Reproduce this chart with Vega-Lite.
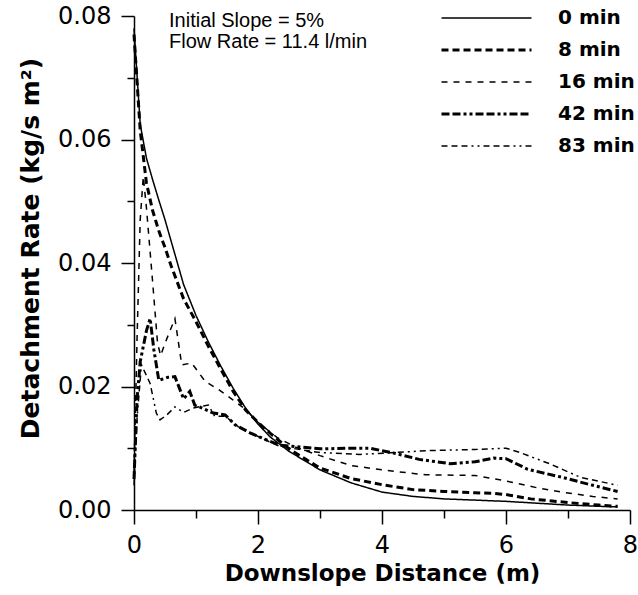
{
  "$schema": "https://vega.github.io/schema/vega-lite/v6.json",
  "width": 496,
  "height": 494,
  "autosize": {"type": "none"},
  "padding": {"left": 134, "top": 16, "right": 8, "bottom": 85},
  "background": "white",
  "config": {
    "view": {"stroke": null},
    "axis": {"grid": false, "domainColor": "black", "tickColor": "black", "labelColor": "black", "titleColor": "black", "domainWidth": 1.5, "tickWidth": 1.5, "labelFont": "DejaVu Sans", "labelFontSize": 24, "titleFont": "DejaVu Sans", "titleFontWeight": "bold", "labelFlush": false, "labelOverlap": false},
    "legend": {"symbolType": "stroke", "symbolSize": 8100, "symbolStrokeColor": "black", "labelFont": "DejaVu Sans", "labelFontWeight": "bold", "labelFontSize": 20, "labelColor": "black", "labelOffset": 25, "padding": 0, "clipHeight": 28, "rowPadding": 4}
  },
  "datasets": {
    "curves": [
      {"time": "0 min", "distance": 0, "rate": 0.078},
      {"time": "0 min", "distance": 0.1, "rate": 0.0625},
      {"time": "0 min", "distance": 0.2, "rate": 0.057},
      {"time": "0 min", "distance": 0.3, "rate": 0.0535},
      {"time": "0 min", "distance": 0.4, "rate": 0.0502},
      {"time": "0 min", "distance": 0.5, "rate": 0.047},
      {"time": "0 min", "distance": 0.6, "rate": 0.0435},
      {"time": "0 min", "distance": 0.8, "rate": 0.0365},
      {"time": "0 min", "distance": 1.0, "rate": 0.0315},
      {"time": "0 min", "distance": 1.2, "rate": 0.0272},
      {"time": "0 min", "distance": 1.4, "rate": 0.0233},
      {"time": "0 min", "distance": 1.6, "rate": 0.0197},
      {"time": "0 min", "distance": 1.8, "rate": 0.0165},
      {"time": "0 min", "distance": 2.0, "rate": 0.0139},
      {"time": "0 min", "distance": 2.2, "rate": 0.0118},
      {"time": "0 min", "distance": 2.5, "rate": 0.0095},
      {"time": "0 min", "distance": 3.0, "rate": 0.0065},
      {"time": "0 min", "distance": 3.5, "rate": 0.0044},
      {"time": "0 min", "distance": 4.0, "rate": 0.0029},
      {"time": "0 min", "distance": 4.5, "rate": 0.0022},
      {"time": "0 min", "distance": 5.0, "rate": 0.0018},
      {"time": "0 min", "distance": 5.5, "rate": 0.0016},
      {"time": "0 min", "distance": 6.0, "rate": 0.0014},
      {"time": "0 min", "distance": 6.5, "rate": 0.0011},
      {"time": "0 min", "distance": 7.0, "rate": 0.0008},
      {"time": "0 min", "distance": 7.5, "rate": 0.0006},
      {"time": "0 min", "distance": 7.8, "rate": 0.0005},

      {"time": "8 min", "distance": 0, "rate": 0.077},
      {"time": "8 min", "distance": 0.1, "rate": 0.0615},
      {"time": "8 min", "distance": 0.2, "rate": 0.053},
      {"time": "8 min", "distance": 0.3, "rate": 0.0485},
      {"time": "8 min", "distance": 0.4, "rate": 0.0452},
      {"time": "8 min", "distance": 0.5, "rate": 0.0425},
      {"time": "8 min", "distance": 0.6, "rate": 0.0395},
      {"time": "8 min", "distance": 0.8, "rate": 0.0342},
      {"time": "8 min", "distance": 1.0, "rate": 0.0305},
      {"time": "8 min", "distance": 1.2, "rate": 0.0265},
      {"time": "8 min", "distance": 1.4, "rate": 0.0228},
      {"time": "8 min", "distance": 1.6, "rate": 0.0192},
      {"time": "8 min", "distance": 1.8, "rate": 0.0162},
      {"time": "8 min", "distance": 2.0, "rate": 0.0142},
      {"time": "8 min", "distance": 2.2, "rate": 0.0124},
      {"time": "8 min", "distance": 2.5, "rate": 0.0099},
      {"time": "8 min", "distance": 3.0, "rate": 0.0068},
      {"time": "8 min", "distance": 3.5, "rate": 0.0051},
      {"time": "8 min", "distance": 4.0, "rate": 0.0041},
      {"time": "8 min", "distance": 4.5, "rate": 0.0033},
      {"time": "8 min", "distance": 5.0, "rate": 0.003},
      {"time": "8 min", "distance": 5.5, "rate": 0.0028},
      {"time": "8 min", "distance": 5.8, "rate": 0.0027},
      {"time": "8 min", "distance": 6.0, "rate": 0.0025},
      {"time": "8 min", "distance": 6.4, "rate": 0.0018},
      {"time": "8 min", "distance": 7.0, "rate": 0.0012},
      {"time": "8 min", "distance": 7.5, "rate": 0.0008},
      {"time": "8 min", "distance": 7.8, "rate": 0.0006},

      {"time": "16 min", "distance": 0, "rate": 0.006},
      {"time": "16 min", "distance": 0.05, "rate": 0.028},
      {"time": "16 min", "distance": 0.1, "rate": 0.047},
      {"time": "16 min", "distance": 0.15, "rate": 0.054},
      {"time": "16 min", "distance": 0.2, "rate": 0.049},
      {"time": "16 min", "distance": 0.3, "rate": 0.037},
      {"time": "16 min", "distance": 0.38, "rate": 0.027},
      {"time": "16 min", "distance": 0.43, "rate": 0.025},
      {"time": "16 min", "distance": 0.5, "rate": 0.027},
      {"time": "16 min", "distance": 0.66, "rate": 0.031},
      {"time": "16 min", "distance": 0.77, "rate": 0.0235},
      {"time": "16 min", "distance": 0.93, "rate": 0.0238},
      {"time": "16 min", "distance": 1.15, "rate": 0.0208},
      {"time": "16 min", "distance": 1.35, "rate": 0.0196},
      {"time": "16 min", "distance": 1.6, "rate": 0.0178},
      {"time": "16 min", "distance": 1.8, "rate": 0.0163},
      {"time": "16 min", "distance": 2.0, "rate": 0.0142},
      {"time": "16 min", "distance": 2.3, "rate": 0.0118},
      {"time": "16 min", "distance": 2.6, "rate": 0.0102},
      {"time": "16 min", "distance": 3.0, "rate": 0.0088},
      {"time": "16 min", "distance": 3.5, "rate": 0.0072},
      {"time": "16 min", "distance": 4.0, "rate": 0.0065},
      {"time": "16 min", "distance": 4.7, "rate": 0.0057},
      {"time": "16 min", "distance": 5.5, "rate": 0.0056},
      {"time": "16 min", "distance": 6.0, "rate": 0.0047},
      {"time": "16 min", "distance": 6.5, "rate": 0.0036},
      {"time": "16 min", "distance": 6.9, "rate": 0.0029},
      {"time": "16 min", "distance": 7.4, "rate": 0.0022},
      {"time": "16 min", "distance": 7.8, "rate": 0.0018},

      {"time": "42 min", "distance": 0, "rate": 0.005},
      {"time": "42 min", "distance": 0.05, "rate": 0.018},
      {"time": "42 min", "distance": 0.1, "rate": 0.024},
      {"time": "42 min", "distance": 0.2, "rate": 0.029},
      {"time": "42 min", "distance": 0.26, "rate": 0.031},
      {"time": "42 min", "distance": 0.32, "rate": 0.026},
      {"time": "42 min", "distance": 0.4, "rate": 0.021},
      {"time": "42 min", "distance": 0.55, "rate": 0.0215},
      {"time": "42 min", "distance": 0.66, "rate": 0.0216},
      {"time": "42 min", "distance": 0.8, "rate": 0.018},
      {"time": "42 min", "distance": 0.9, "rate": 0.0192},
      {"time": "42 min", "distance": 0.98, "rate": 0.017},
      {"time": "42 min", "distance": 1.1, "rate": 0.0165},
      {"time": "42 min", "distance": 1.28, "rate": 0.0157},
      {"time": "42 min", "distance": 1.47, "rate": 0.0154},
      {"time": "42 min", "distance": 1.63, "rate": 0.0138},
      {"time": "42 min", "distance": 1.87, "rate": 0.0125},
      {"time": "42 min", "distance": 2.1, "rate": 0.0115},
      {"time": "42 min", "distance": 2.35, "rate": 0.0105},
      {"time": "42 min", "distance": 3.0, "rate": 0.0099},
      {"time": "42 min", "distance": 3.5, "rate": 0.01},
      {"time": "42 min", "distance": 3.8, "rate": 0.01},
      {"time": "42 min", "distance": 4.2, "rate": 0.0092},
      {"time": "42 min", "distance": 4.6, "rate": 0.0082},
      {"time": "42 min", "distance": 5.1, "rate": 0.0075},
      {"time": "42 min", "distance": 5.5, "rate": 0.0078},
      {"time": "42 min", "distance": 5.8, "rate": 0.0084},
      {"time": "42 min", "distance": 6.0, "rate": 0.0083},
      {"time": "42 min", "distance": 6.35, "rate": 0.0066},
      {"time": "42 min", "distance": 6.9, "rate": 0.0053},
      {"time": "42 min", "distance": 7.4, "rate": 0.004},
      {"time": "42 min", "distance": 7.8, "rate": 0.003},

      {"time": "83 min", "distance": 0, "rate": 0.004},
      {"time": "83 min", "distance": 0.05, "rate": 0.015},
      {"time": "83 min", "distance": 0.12, "rate": 0.0235},
      {"time": "83 min", "distance": 0.26, "rate": 0.0205},
      {"time": "83 min", "distance": 0.36, "rate": 0.0157},
      {"time": "83 min", "distance": 0.42, "rate": 0.0146},
      {"time": "83 min", "distance": 0.53, "rate": 0.0154},
      {"time": "83 min", "distance": 0.66, "rate": 0.0167},
      {"time": "83 min", "distance": 0.8, "rate": 0.0158},
      {"time": "83 min", "distance": 0.95, "rate": 0.0165},
      {"time": "83 min", "distance": 1.1, "rate": 0.0168},
      {"time": "83 min", "distance": 1.2, "rate": 0.017},
      {"time": "83 min", "distance": 1.3, "rate": 0.0152},
      {"time": "83 min", "distance": 1.47, "rate": 0.0152},
      {"time": "83 min", "distance": 1.68, "rate": 0.0135},
      {"time": "83 min", "distance": 1.87, "rate": 0.0125},
      {"time": "83 min", "distance": 2.35, "rate": 0.0103},
      {"time": "83 min", "distance": 3.0, "rate": 0.0093},
      {"time": "83 min", "distance": 3.65, "rate": 0.009},
      {"time": "83 min", "distance": 4.2, "rate": 0.0093},
      {"time": "83 min", "distance": 4.7, "rate": 0.0096},
      {"time": "83 min", "distance": 5.5, "rate": 0.0098},
      {"time": "83 min", "distance": 6.0, "rate": 0.01},
      {"time": "83 min", "distance": 6.2, "rate": 0.0094},
      {"time": "83 min", "distance": 6.7, "rate": 0.0075},
      {"time": "83 min", "distance": 7.2, "rate": 0.0053},
      {"time": "83 min", "distance": 7.8, "rate": 0.004}
    ],
    "notes": [
      {"label": "Initial Slope = 5%\nFlow Rate = 11.4 l/min", "distance": 0.565, "rate": 0.0782}
    ]
  },
  "layer": [
    {
      "data": {"name": "curves"},
      "mark": {"type": "line", "color": "black", "strokeCap": "butt"},
      "encoding": {
        "x": {
          "field": "distance", "type": "quantitative",
          "scale": {"domain": [0, 8], "nice": false, "zero": false},
          "axis": {
            "title": "Downslope Distance (m)",
            "titleFontSize": 23,
            "values": [0, 1, 2, 3, 4, 5, 6, 7, 8],
            "format": "d",
            "labelExpr": "datum.value % 2 === 0 ? datum.label : ''",
            "tickSize": {"condition": {"test": "datum.value % 2 === 0", "value": 14}, "value": 8},
            "labelPadding": 9,
            "titlePadding": 5
          }
        },
        "y": {
          "field": "rate", "type": "quantitative",
          "scale": {"domain": [0, 0.08], "nice": false},
          "axis": {
            "title": "Detachment Rate (kg/s m²)",
            "titleFontSize": 25,
            "titleY": 232,
            "values": [0, 0.01, 0.02, 0.03, 0.04, 0.05, 0.06, 0.07, 0.08],
            "format": ".2f",
            "labelExpr": "round(datum.value * 100) % 2 === 0 ? datum.label : ''",
            "tickSize": {"condition": {"test": "round(datum.value * 100) % 2 === 0", "value": 13}, "value": 7},
            "labelPadding": 10,
            "titlePadding": 14
          }
        },
        "strokeDash": {
          "field": "time", "type": "nominal",
          "scale": {"domain": ["0 min", "8 min", "16 min", "42 min", "83 min"], "range": [[1, 0], [7, 4], [6, 6], [8, 3, 8, 3, 3, 3, 3, 3], [6, 4, 6, 4, 6, 4, 2, 4, 2, 4]]},
          "legend": {"orient": "none", "legendX": 306, "legendY": -12, "title": null}
        },
        "strokeWidth": {
          "field": "time", "type": "nominal",
          "scale": {"type": "ordinal", "domain": ["0 min", "8 min", "16 min", "42 min", "83 min"], "range": [1.5, 3, 1.5, 3, 1.5]},
          "legend": {"orient": "none", "legendX": 306, "legendY": -12, "title": null}
        }
      }
    },
    {
      "data": {"name": "notes"},
      "mark": {"type": "text", "font": "Liberation Sans", "fontSize": 20, "align": "left", "baseline": "alphabetic", "lineBreak": "\n", "lineHeight": 21, "color": "black"},
      "encoding": {
        "x": {"field": "distance", "type": "quantitative"},
        "y": {"field": "rate", "type": "quantitative"},
        "text": {"field": "label"}
      }
    }
  ]
}
